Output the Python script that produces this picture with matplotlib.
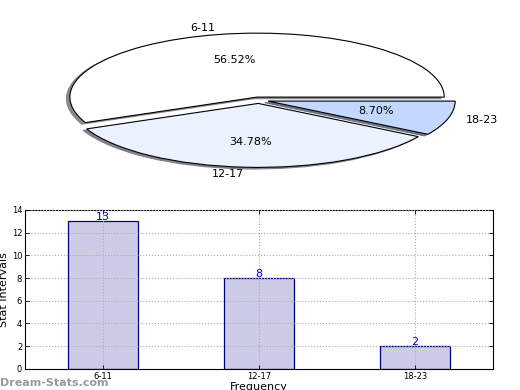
import matplotlib.pyplot as plt
import numpy as np

intervals = ["6-11", "12-17", "18-23"]
counts = [13, 8, 2]
pie_colors = ["#FFFFFF", "#EBF1FF", "#C3D8FF"]
bar_face = "#CCCCE6"
bar_edge = "#000080"

fig = plt.figure(figsize=(5.2, 3.9), dpi=100)

# pie on top, squashed into an ellipse
ax_pie = fig.add_axes([0.048, 0.538, 0.9, 0.41])
wedges, texts, autotexts = ax_pie.pie(
    counts,
    labels=intervals,
    colors=pie_colors,
    explode=[0.05, 0.05, 0.05],
    autopct="%1.2f%%",
    shadow={"ox": -0.013, "oy": -0.018, "shade": 0.5, "alpha": 0.9},
    startangle=0,
    wedgeprops={"edgecolor": "black", "linewidth": 0.8},
    textprops={"fontsize": 8},
)
ax_pie.set_aspect("auto")
ax_pie.set_xlim(-1.25, 1.25)
ax_pie.set_ylim(-1.25, 1.25)

# bar chart below
ax = fig.add_axes([0.048, 0.054, 0.9, 0.408])
x = np.arange(len(intervals))
ax.bar(x, counts, width=0.45, color=bar_face, edgecolor=bar_edge, linewidth=0.9, zorder=2)
for xi, c in zip(x, counts):
    ax.text(xi, c + 0.35, str(c), ha="center", va="center", color="#0000CC", fontsize=8, zorder=3)

ax.set_xlim(-0.5, 2.5)
ax.set_ylim(0, 14)
ax.set_xticks(x)
ax.set_xticklabels(intervals, fontsize=6)
ax.set_yticks(np.arange(0, 15, 2))
ax.tick_params(axis="y", labelsize=6)
ax.tick_params(direction="in", top=True, right=True, length=3, width=0.6, pad=2)
ax.grid(True, axis="y", linestyle=":", color="#aaaaaa", linewidth=0.8, zorder=0)
ax.grid(True, axis="x", linestyle=":", color="#aaaaaa", linewidth=0.8, zorder=3)
ax.set_axisbelow(False)
ax.set_xlabel("Frequency", fontsize=8, labelpad=1)
ax.set_ylabel("Stat Intervals", fontsize=8, labelpad=2)

fig.text(0.0, 0.005, "Dream-Stats.com", fontsize=8, color="#999999", fontweight="bold",
         ha="left", va="bottom")

fig.savefig("out.png", dpi=100)
